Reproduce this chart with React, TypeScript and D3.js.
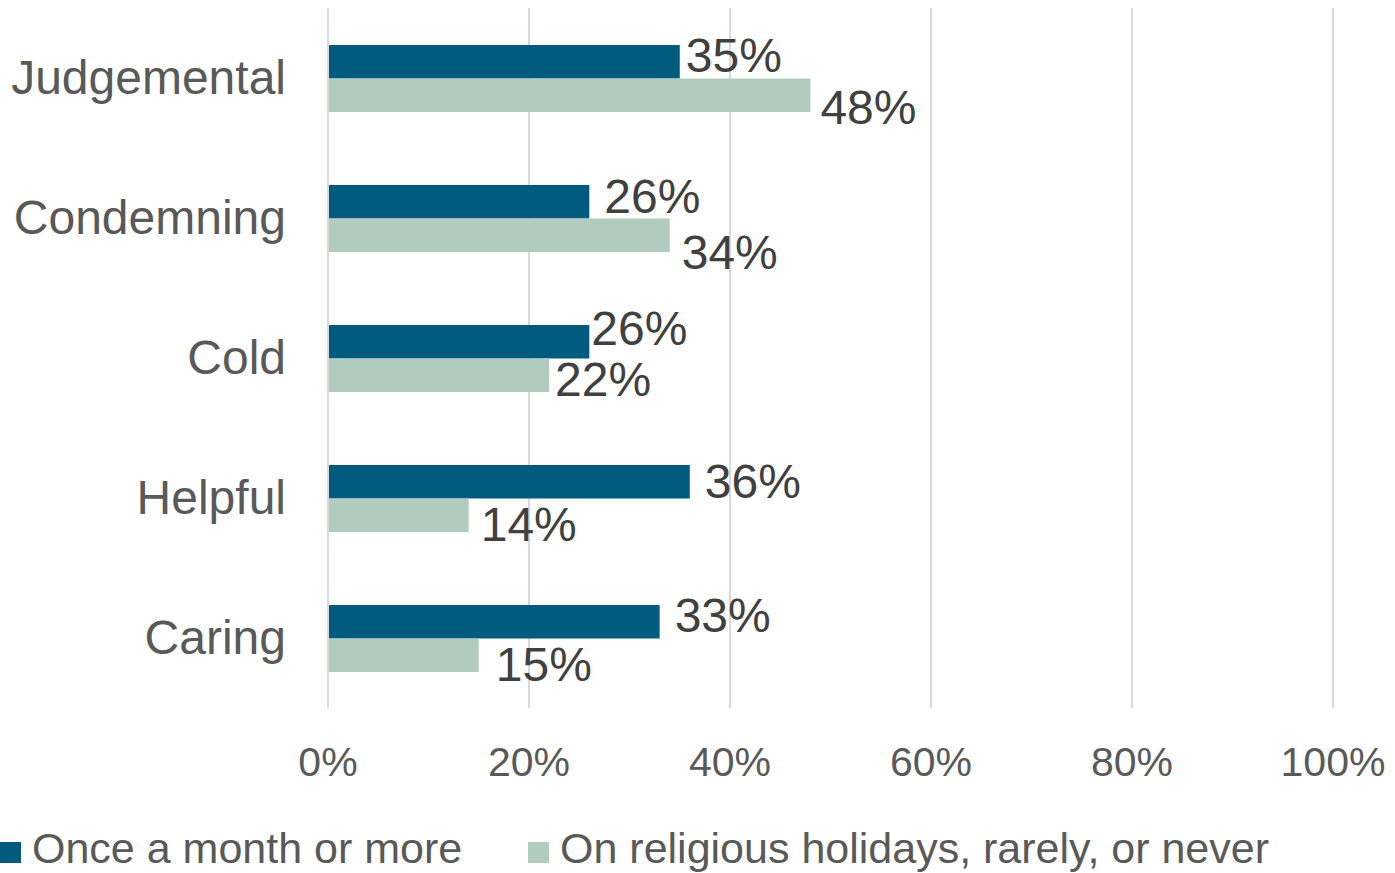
import React from "react";
import * as d3 from "d3";

const categories = ["Judgemental", "Condemning", "Cold", "Helpful", "Caring"];
const seriesNames = ["Once a month or more", "On religious holidays, rarely, or never"];
const monthlyValues = [35, 26, 26, 36, 33];
const rarelyValues = [48, 34, 22, 14, 15];
const xTicks = [0, 20, 40, 60, 80, 100];

// manual label nudges (dx from bar end, dy baseline from band centre)
const monthlyLabelNudge = [
  [6, -6],
  [15, -5],
  [2, -13],
  [15, 0],
  [15, -6],
];
const rarelyLabelNudge = [
  [10, 46],
  [12, 51],
  [6, 38],
  [12, 43],
  [17, 43],
];

const W = 1395;
const H = 873;
const FONT = "'Liberation Sans', Arial, sans-serif";
const DARK = "#005B7F";
const LIGHT = "#B2CBBF";

export default function App() {
  const x = d3.scaleLinear().domain([0, 100]).range([328, 1333]);
  const y = d3.scaleBand().domain(categories).range([8, 708]);
  const barH = 33.5;
  const series = [monthlyValues, rarelyValues];
  const nudges = [monthlyLabelNudge, rarelyLabelNudge];
  const colors = [DARK, LIGHT];

  return (
    <svg
      width={W}
      height={H}
      style={{ position: "absolute", left: 0, top: 0, background: "#fff" }}
      fontFamily={FONT}
    >
      {xTicks.map((t) => (
        <line key={"g" + t} x1={x(t)} x2={x(t)} y1={8} y2={708} stroke="#D9D9D9" strokeWidth={2} />
      ))}
      {categories.map((c, i) => {
        const cy = (y(c) as number) + y.bandwidth() / 2;
        return (
          <g key={c}>
            <text x={286} y={cy + 16} textAnchor="end" fontSize={48} fill="#595959">
              {c}
            </text>
            {series.map((vals, s) => {
              const top = cy - barH + 0.5 + s * barH;
              return (
                <g key={s}>
                  <rect x={x(0) + 1} y={top} width={x(vals[i]) - x(0) - 1} height={barH} fill={colors[s]} />
                  <text
                    x={x(vals[i]) + nudges[s][i][0]}
                    y={cy + nudges[s][i][1]}
                    fontSize={48}
                    fill="#404040"
                  >
                    {vals[i]}%
                  </text>
                </g>
              );
            })}
          </g>
        );
      })}
      {xTicks.map((t) => (
        <text key={"t" + t} x={x(t)} y={776} textAnchor="middle" fontSize={41} fill="#595959">
          {t}%
        </text>
      ))}
      <rect x={0} y={842} width={21} height={21} fill={DARK} />
      <text x={32} y={863} fontSize={43} fill="#595959">
        {seriesNames[0]}
      </text>
      <rect x={528} y={842} width={21} height={21} fill={LIGHT} />
      <text x={560} y={863} fontSize={43} fill="#595959">
        {seriesNames[1]}
      </text>
    </svg>
  );
}
